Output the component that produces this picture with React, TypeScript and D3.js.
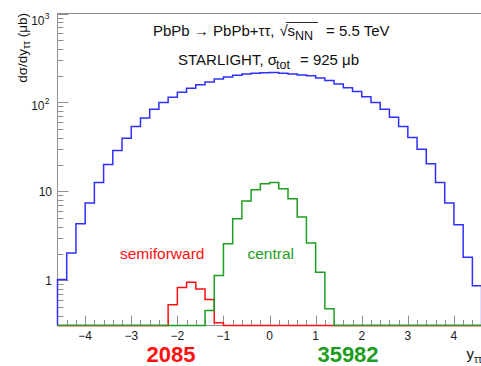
import React from "react";
import * as d3 from "d3";

// Rapidity binning of the histograms
const binLow = -4.6;
const binWidth = 0.2;

// dσ/dy (μb) per bin: full STARLIGHT sample
const totalValues = [
  1.02, 2.03, 4.33, 7.39, 12.6, 20.0, 28.8, 39.6, 53.5, 67, 84, 99.5, 114, 130,
  144, 158, 170, 183, 193, 202, 209, 213, 215, 217, 213, 209, 204, 199, 188,
  176, 161, 146, 133, 116, 99.5, 84, 68, 53.5, 40.2, 29.7, 20.4, 12.6, 7.4, 4.2,
  1.81, 0.87,
];

// semiforward selection
const semiforwardValues = [
  0, 0, 0, 0, 0, 0, 0, 0, 0, 0, 0, 0, 0.53, 0.83, 0.95, 0.8, 0.607, 0.333, 0, 0,
  0, 0, 0, 0, 0, 0, 0, 0, 0, 0, 0, 0, 0, 0, 0, 0, 0, 0, 0, 0, 0, 0, 0, 0, 0, 0,
];

// central selection
const centralValues = [
  0, 0, 0, 0, 0, 0, 0, 0, 0, 0, 0, 0, 0, 0, 0, 0, 0.457, 1.13, 2.58, 4.93, 7.8,
  10.4, 12.2, 12.6, 10.7, 8.27, 5.15, 2.63, 1.23, 0.477, 0, 0, 0, 0, 0, 0, 0, 0,
  0, 0, 0, 0, 0, 0, 0, 0,
];

const xMajorTicks = [-4, -3, -2, -1, 0, 1, 2, 3, 4];
const yMajorTicks = [1, 10, 100, 1000];
const eventCounts = { semiforward: "2085", central: "35982" };

const W = 481;
const H = 366;
const FONT = "'Liberation Sans', Arial, Helvetica, sans-serif";
const AXIS = "#8f8f8f";
const BLUE = "#2f2fff";
const RED = "#ff1010";
const GREEN = "#1e9e1e";

const yMin = 0.31;
const x = d3.scaleLinear().domain([-4.6, 4.6]).range([57.5, 481.6]);
const y = d3.scaleLog().domain([yMin, 1000]).range([325.5, 13.5]);

function histPath(values: number[]) {
  const pts: [number, number][] = [];
  const n = values.length;
  pts.push([binLow, yMin]);
  values.forEach((v, i) => {
    const lo = binLow + i * binWidth;
    const vv = Math.max(v, yMin);
    pts.push([lo, vv]);
    pts.push([lo + binWidth, vv]);
  });
  pts.push([binLow + n * binWidth, yMin]);
  return d3
    .line<[number, number]>()
    .x((d) => x(d[0]))
    .y((d) => y(d[1]))(pts) as string;
}

export default function App() {
  const xMinor = d3
    .range(-23, 24)
    .map((k) => k * 0.2)
    .filter((v) => Math.abs(v - Math.round(v)) > 1e-6);
  const yMinor: number[] = [];
  [0.1, 1, 10, 100].forEach((dec) => {
    for (let m = 2; m <= 9; m++) {
      const v = m * dec;
      if (v > yMin && v < 1000) yMinor.push(v);
    }
  });
  const x0 = x.range()[0];
  const x1 = x.range()[1];
  const yB = y.range()[0];
  const yT = y.range()[1];

  return (
    <svg
      width={W}
      height={H}
      viewBox={`0 0 ${W} ${H}`}
      style={{ position: "absolute", left: 0, top: 0, background: "#fff" }}
      fontFamily={FONT}
    >
      <rect width={W} height={H} fill="#fff" />

      {/* frame */}
      <line x1={x0} x2={x1 + 2} y1={yT} y2={yT} stroke={AXIS} strokeWidth={1} />
      <line x1={x0} x2={x0} y1={yT} y2={yB} stroke={AXIS} strokeWidth={1} />
      <line x1={x0} x2={x1 + 2} y1={yB} y2={yB} stroke={AXIS} strokeWidth={1} />

      {/* y ticks */}
      {yMajorTicks.map((t) => (
        <line key={"ym" + t} x1={x0} x2={x0 + 11} y1={Math.round(y(t)) + 0.5} y2={Math.round(y(t)) + 0.5} stroke={AXIS} />
      ))}
      {yMinor.map((t) => (
        <line key={"yn" + t} x1={x0} x2={x0 + 6} y1={Math.round(y(t)) + 0.5} y2={Math.round(y(t)) + 0.5} stroke={AXIS} />
      ))}

      {/* x ticks */}
      {xMajorTicks.map((t) => (
        <line key={"xm" + t} x1={Math.round(x(t)) + 0.5} x2={Math.round(x(t)) + 0.5} y1={yB} y2={yB - 10} stroke={AXIS} />
      ))}
      {xMinor.map((t) => (
        <line key={"xn" + t} x1={Math.round(x(t)) + 0.5} x2={Math.round(x(t)) + 0.5} y1={yB} y2={yB - 5.5} stroke={AXIS} />
      ))}

      {/* histograms */}
      <g fill="none" strokeWidth={1.5} strokeLinejoin="miter">
        <path d={histPath(totalValues)} stroke={BLUE} />
        <path d={histPath(semiforwardValues)} stroke={RED} />
        <path d={histPath(centralValues)} stroke={GREEN} />
      </g>

      {/* x tick labels */}
      <g fontSize={12} fill="#1a1a1a" textAnchor="middle">
        {xMajorTicks.map((t) => (
          <text key={"xl" + t} x={x(t)} y={339.5}>
            {t < 0 ? "\u2212" + Math.abs(t) : String(t)}
          </text>
        ))}
      </g>

      {/* y tick labels */}
      <g fontSize={12} fill="#1a1a1a">
        <text x={52} y={y(1) + 4.5} textAnchor="end">1</text>
        <text x={52} y={y(10) + 4.5} textAnchor="end">10</text>
        <text x={44.5} y={y(100) + 8} textAnchor="end">10</text>
        <text x={44.8} y={y(100) + 2} fontSize={8.5}>2</text>
        <text x={44.5} y={y(1000) + 11.5} textAnchor="end">10</text>
        <text x={44.8} y={y(1000) + 5} fontSize={8.5}>3</text>
      </g>

      {/* axis titles */}
      <text transform="translate(26.5,13) rotate(-90)" textAnchor="end" fontSize={13.5} fill="#111">
        dσ/dy<tspan fontSize={10} dy={3.5}>ττ</tspan>
        <tspan dy={-3.5}> (μb)</tspan>
      </text>
      <text x={482} y={359} textAnchor="end" fontSize={15} fill="#111">
        y<tspan fontSize={10} dy={3.5}>ττ</tspan>
      </text>

      {/* header */}
      <g fontSize={15} fill="#111">
        <text y={35.5}>
          <tspan x={153}>PbPb → PbPb+ττ,</tspan>
          <tspan x={279.5}>√</tspan>
          <tspan x={287.5}>s</tspan>
          <tspan x={295} dy={4} fontSize={12.5}>NN</tspan>
          <tspan x={326} dy={-4}>= 5.5 TeV</tspan>
        </text>
        <line x1={286} x2={318} y1={22.5} y2={22.5} stroke="#111" strokeWidth={0.9} />
        <text y={65}>
          <tspan x={178}>STARLIGHT, σ</tspan>
          <tspan x={276} dy={4} fontSize={12.5}>tot</tspan>
          <tspan x={300} dy={-4}>= 925 μb</tspan>
        </text>
      </g>

      {/* selection labels */}
      <text x={120} y={259} fontSize={15.5} fill={RED}>semiforward</text>
      <text x={247.5} y={259} fontSize={15.5} fill={GREEN}>central</text>

      {/* event counts */}
      <g fontSize={22} fontWeight="bold" textAnchor="middle">
        <text x={171} y={362} fill={RED}>{eventCounts.semiforward}</text>
        <text x={348} y={362} fill={GREEN}>{eventCounts.central}</text>
      </g>
    </svg>
  );
}
